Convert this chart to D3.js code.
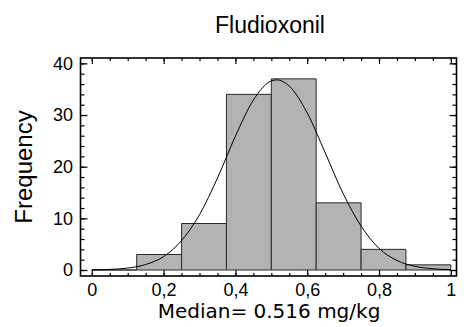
<!DOCTYPE html>
<html>
<head>
<meta charset="utf-8">
<script src="https://cdn.jsdelivr.net/npm/d3@7/dist/d3.min.js"></script>
<style>
  html, body { margin: 0; padding: 0; background: #fff; }
  svg { display: block; }
</style>
</head>
<body>
<svg id="chart" width="464" height="327"></svg>
<script>
// ---- data ----
const title = "Fludioxonil";
const xLabel = "Median= 0.516 mg/kg";
const yLabel = "Frequency";
const binEdgesLeft = [0, 0.125, 0.25, 0.375, 0.5, 0.625, 0.75, 0.875];
const binWidth = 0.125;
const binCounts = [0, 3, 9, 34, 37, 13, 4, 1];
// fitted curve (x value, frequency)
const curveX = [0, 0.05, 0.10, 0.15, 0.20, 0.25, 0.30, 0.35, 0.40, 0.45, 0.50, 0.515, 0.55, 0.60, 0.65, 0.70, 0.75, 0.80, 0.85, 0.90, 0.95, 1.0];
const curveY = [0.03, 0.12, 0.37, 1.06, 2.6, 5.7, 10.7, 17.8, 25.9, 32.9, 36.6, 36.8, 35.6, 30.4, 22.7, 14.8, 8.5, 4.2, 1.85, 0.71, 0.24, 0.07];
const xTickValues = [0, 0.2, 0.4, 0.6, 0.8, 1];
const xTickLabels = ["0", "0,2", "0,4", "0,6", "0,8", "1"];
const xMinorTicks = d3.range(0, 21).map(i => i / 20);
const yTickValues = [0, 10, 20, 30, 40];
const yTickLabels = ["0", "10", "20", "30", "40"];
const yMinorTicks = d3.range(0, 21).map(i => i * 2);

// ---- layout ----
const frame = { left: 80.5, right: 456.5, top: 58, bottom: 276 };
const svg = d3.select("#chart");

const x = d3.scaleLinear().domain([-0.0315, 1.0158]).range([frame.left, frame.right]);
const y = d3.scaleLinear().domain([-1.16, 41.04]).range([frame.bottom, frame.top]);

// bars
const bars = binEdgesLeft.map((b, i) => ({ x0: b, x1: b + binWidth, c: binCounts[i] }));
svg.append("g").selectAll("path").data(bars).join("path")
  .attr("d", d => {
    const x0 = x(d.x0), x1 = x(d.x1), y0 = y(0), y1 = y(d.c);
    return `M${x0},${y0}V${y1}H${x1}V${y0}Z`;
  })
  .attr("fill", "#b3b3b3")
  .attr("stroke", "#2a2a2a")
  .attr("stroke-width", 1);

// fitted curve
const pts = curveX.map((v, i) => [v, curveY[i]]);
svg.append("path")
  .datum(pts)
  .attr("fill", "none")
  .attr("stroke", "#000")
  .attr("stroke-width", 1)
  .attr("d", d3.line().x(d => x(d[0])).y(d => y(d[1])).curve(d3.curveMonotoneX));

// axes (ticks inward)
const fontTicks = "'Liberation Sans', Arial, sans-serif";
function styleAxis(g) {
  g.select(".domain").remove();
  g.selectAll(".tick line").attr("stroke", "#000").attr("stroke-width", 1.2);
  g.selectAll("text").attr("font-family", fontTicks).attr("font-size", 18).attr("fill", "#000");
}
// bottom major
svg.append("g").attr("transform", `translate(0,${frame.bottom})`)
  .call(d3.axisBottom(x).tickValues(xTickValues).tickSize(-6).tickPadding(7)
    .tickFormat((d, i) => xTickLabels[i]))
  .call(styleAxis);
// bottom minor
svg.append("g").attr("transform", `translate(0,${frame.bottom})`)
  .call(d3.axisBottom(x).tickValues(xMinorTicks).tickSize(-3).tickFormat(""))
  .call(styleAxis);
// top major & minor
svg.append("g").attr("transform", `translate(0,${frame.top})`)
  .call(d3.axisTop(x).tickValues(xTickValues).tickSize(-6).tickFormat(""))
  .call(styleAxis);
svg.append("g").attr("transform", `translate(0,${frame.top})`)
  .call(d3.axisTop(x).tickValues(xMinorTicks).tickSize(-3).tickFormat(""))
  .call(styleAxis);
// left major
svg.append("g").attr("transform", `translate(${frame.left},0)`)
  .call(d3.axisLeft(y).tickValues(yTickValues).tickSize(-7).tickPadding(7.5)
    .tickFormat((d, i) => yTickLabels[i]))
  .call(styleAxis);
svg.append("g").attr("transform", `translate(${frame.left},0)`)
  .call(d3.axisLeft(y).tickValues(yMinorTicks).tickSize(-4).tickFormat(""))
  .call(styleAxis);
// right
svg.append("g").attr("transform", `translate(${frame.right},0)`)
  .call(d3.axisRight(y).tickValues(yTickValues).tickSize(-7).tickFormat(""))
  .call(styleAxis);
svg.append("g").attr("transform", `translate(${frame.right},0)`)
  .call(d3.axisRight(y).tickValues(yMinorTicks).tickSize(-4).tickFormat(""))
  .call(styleAxis);

// frame
svg.append("rect")
  .attr("x", frame.left).attr("y", frame.top)
  .attr("width", frame.right - frame.left).attr("height", frame.bottom - frame.top)
  .attr("fill", "none").attr("stroke", "#000").attr("stroke-width", 1.6);

// title
svg.append("text")
  .attr("x", 270).attr("y", 33)
  .attr("text-anchor", "middle")
  .attr("font-family", "'Liberation Sans', Arial, sans-serif")
  .attr("font-size", 23)
  .attr("fill", "#000")
  .text(title);

// y label
svg.append("text")
  .attr("transform", `translate(32,${(frame.top + frame.bottom) / 2}) rotate(-90)`)
  .attr("text-anchor", "middle")
  .attr("font-family", "'Liberation Sans', Arial, sans-serif")
  .attr("font-size", 24)
  .attr("fill", "#000")
  .text(yLabel);

// x label
svg.append("text")
  .attr("x", 269).attr("y", 318)
  .attr("text-anchor", "middle")
  .attr("font-family", "'DejaVu Sans', sans-serif")
  .attr("font-size", 20)
  .attr("fill", "#000")
  .text(xLabel);
</script>
</body>
</html>
